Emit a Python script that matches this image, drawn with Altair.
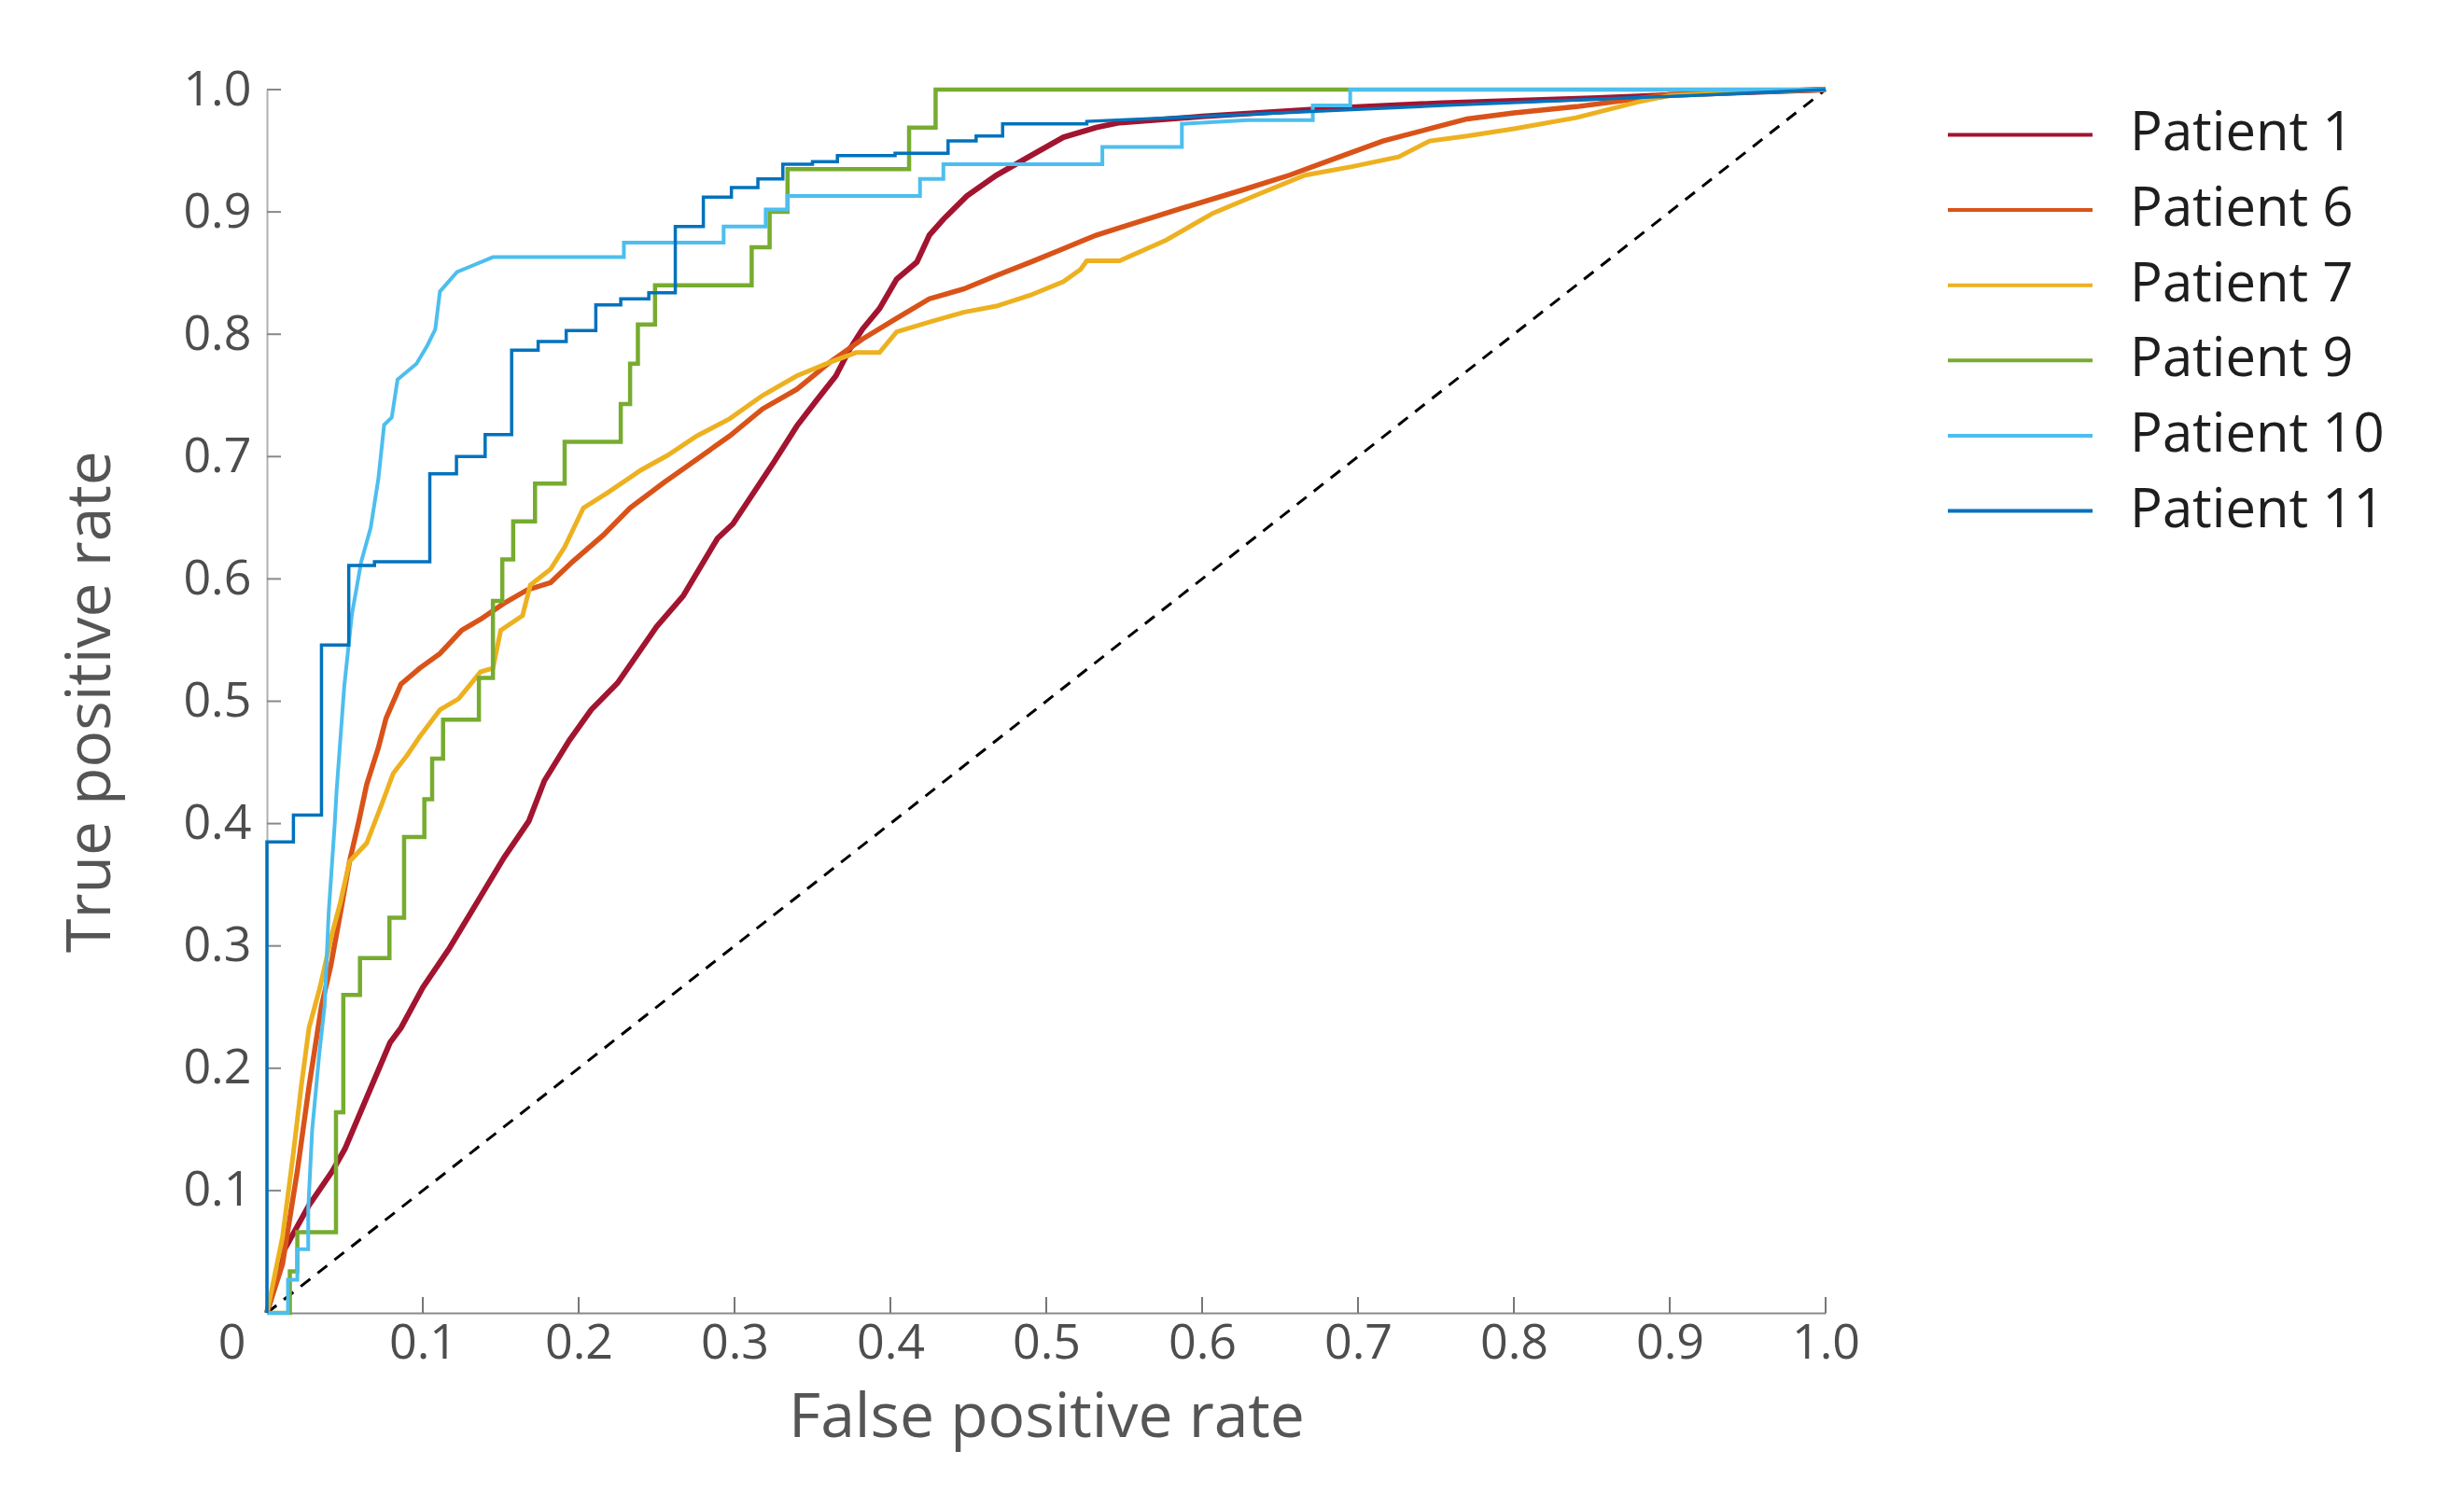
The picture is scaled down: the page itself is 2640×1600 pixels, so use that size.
import altair as alt
import pandas as pd

# series, in drawing order (later ones on top)
patients = ["Patient 1", "Patient 6", "Patient 7", "Patient 9", "Patient 10", "Patient 11"]
colors = ["#A2142F", "#D95319", "#EDB120", "#77AC30", "#4DBEEE", "#0072BD"]
widths = [6, 3.5, 3, 3.5, 3.5, 4.5]

# Patient 1
p1_fpr = [0, 0.010, 0.027, 0.042, 0.050, 0.064, 0.079, 0.086, 0.100, 0.117, 0.135, 0.152, 0.168,
          0.178, 0.194, 0.208, 0.225, 0.250, 0.267, 0.289, 0.299, 0.312, 0.325, 0.340, 0.352,
          0.365, 0.374, 0.382, 0.393, 0.404, 0.417, 0.425, 0.434, 0.449, 0.468, 0.490, 0.511,
          0.532, 0.547, 0.600, 0.686, 0.754, 0.850, 0.930, 1.0]
p1_tpr = [0, 0.049, 0.088, 0.116, 0.134, 0.176, 0.221, 0.233, 0.266, 0.298, 0.336, 0.372, 0.402,
          0.435, 0.468, 0.493, 0.515, 0.561, 0.586, 0.633, 0.645, 0.670, 0.695, 0.725, 0.745,
          0.766, 0.788, 0.804, 0.821, 0.845, 0.859, 0.881, 0.894, 0.913, 0.930, 0.946, 0.961,
          0.969, 0.973, 0.978, 0.985, 0.989, 0.993, 0.997, 1.0]

# Patient 6
p6_fpr = [0, 0.010, 0.0195, 0.027, 0.035, 0.041, 0.048, 0.053, 0.059, 0.064, 0.0715, 0.0764,
          0.086, 0.098, 0.111, 0.125, 0.137, 0.152, 0.167, 0.182, 0.196, 0.216, 0.233, 0.255,
          0.276, 0.297, 0.318, 0.340, 0.361, 0.382, 0.404, 0.425, 0.447, 0.468, 0.490, 0.511,
          0.532, 0.547, 0.587, 0.626, 0.656, 0.686, 0.716, 0.746, 0.770, 0.800, 0.840, 0.870,
          0.900, 0.950, 1.0]
p6_tpr = [0, 0.040, 0.116, 0.185, 0.251, 0.284, 0.333, 0.369, 0.402, 0.432, 0.462, 0.486,
          0.514, 0.527, 0.539, 0.558, 0.567, 0.580, 0.591, 0.597, 0.614, 0.636, 0.658, 0.679,
          0.698, 0.717, 0.739, 0.755, 0.777, 0.796, 0.813, 0.829, 0.837, 0.848, 0.859, 0.870,
          0.881, 0.887, 0.903, 0.918, 0.930, 0.944, 0.958, 0.968, 0.976, 0.981, 0.986, 0.991,
          0.996, 0.998, 1.0]

# Patient 7
p7_fpr = [0, 0.010, 0.017, 0.022, 0.027, 0.034, 0.042, 0.047, 0.053, 0.064, 0.074, 0.081,
          0.090, 0.098, 0.111, 0.123, 0.137, 0.145, 0.150, 0.164, 0.169, 0.182, 0.191, 0.203,
          0.218, 0.240, 0.257, 0.276, 0.297, 0.318, 0.340, 0.361, 0.378, 0.393, 0.404, 0.425,
          0.447, 0.468, 0.490, 0.511, 0.522, 0.526, 0.547, 0.577, 0.607, 0.637, 0.666, 0.696,
          0.726, 0.746, 0.770, 0.800, 0.840, 0.880, 0.900, 0.950, 1.0]
p7_tpr = [0, 0.062, 0.131, 0.185, 0.233, 0.266, 0.311, 0.335, 0.369, 0.384, 0.417, 0.441,
          0.456, 0.471, 0.493, 0.502, 0.524, 0.527, 0.558, 0.570, 0.595, 0.608, 0.626, 0.658,
          0.670, 0.689, 0.701, 0.717, 0.731, 0.750, 0.766, 0.777, 0.785, 0.785, 0.802, 0.810,
          0.818, 0.823, 0.832, 0.843, 0.853, 0.860, 0.860, 0.877, 0.899, 0.915, 0.930, 0.937,
          0.945, 0.958, 0.962, 0.968, 0.977, 0.990, 0.995, 0.998, 1.0]

# Patient 9
p9_fpr = [0, 0.0147, 0.0147, 0.0195, 0.0195, 0.0443, 0.0443, 0.049, 0.049, 0.0597, 0.0597,
          0.0786, 0.0786, 0.088, 0.088, 0.101, 0.101, 0.106, 0.106, 0.113, 0.113, 0.136, 0.136,
          0.145, 0.145, 0.151, 0.151, 0.158, 0.158, 0.172, 0.172, 0.191, 0.191, 0.227, 0.227,
          0.233, 0.233, 0.238, 0.238, 0.249, 0.249, 0.311, 0.311, 0.3225, 0.3225, 0.334, 0.334,
          0.412, 0.412, 0.429, 0.429, 1.0]
p9_tpr = [0, 0, 0.034, 0.034, 0.066, 0.066, 0.164, 0.164, 0.260, 0.260, 0.290, 0.290, 0.323,
          0.323, 0.389, 0.389, 0.420, 0.420, 0.453, 0.453, 0.485, 0.485, 0.519, 0.519, 0.582,
          0.582, 0.616, 0.616, 0.647, 0.647, 0.678, 0.678, 0.712, 0.712, 0.743, 0.743, 0.776,
          0.776, 0.808, 0.808, 0.840, 0.840, 0.871, 0.871, 0.900, 0.900, 0.935, 0.935, 0.969,
          0.969, 1.0, 1.0]

# Patient 10
p10_fpr = [0, 0.0135, 0.0135, 0.0195, 0.0195, 0.0265, 0.0265, 0.029, 0.0336, 0.037, 0.0396,
           0.0435, 0.0447, 0.0496, 0.0545, 0.0605, 0.0666, 0.0715, 0.0752, 0.0801, 0.0838,
           0.096, 0.103, 0.108, 0.111, 0.122, 0.145, 0.229, 0.229, 0.293, 0.293, 0.320, 0.320,
           0.334, 0.334, 0.419, 0.419, 0.434, 0.434, 0.536, 0.536, 0.587, 0.587, 0.629, 0.671,
           0.671, 0.695, 0.695, 1.0]
p10_tpr = [0, 0, 0.027, 0.027, 0.052, 0.052, 0.085, 0.149, 0.212, 0.251, 0.327, 0.400, 0.427,
           0.512, 0.571, 0.614, 0.642, 0.682, 0.726, 0.732, 0.763, 0.776, 0.791, 0.804, 0.835,
           0.851, 0.863, 0.863, 0.875, 0.875, 0.888, 0.888, 0.902, 0.902, 0.913, 0.913, 0.927,
           0.927, 0.939, 0.939, 0.953, 0.953, 0.972, 0.975, 0.975, 0.987, 0.987, 1.0, 1.0]

# Patient 11
p11_fpr = [0, 0, 0.017, 0.017, 0.035, 0.035, 0.0525, 0.0525, 0.069, 0.069, 0.1045, 0.1045,
           0.1216, 0.1216, 0.140, 0.140, 0.157, 0.157, 0.174, 0.174, 0.192, 0.192, 0.211, 0.211,
           0.227, 0.227, 0.245, 0.245, 0.262, 0.262, 0.280, 0.280, 0.298, 0.298, 0.315, 0.315,
           0.331, 0.331, 0.350, 0.350, 0.366, 0.366, 0.403, 0.403, 0.437, 0.437, 0.455, 0.455,
           0.472, 0.472, 0.526, 0.526, 0.600, 0.686, 0.754, 0.850, 0.930, 1.0]
p11_tpr = [0, 0.385, 0.385, 0.407, 0.407, 0.546, 0.546, 0.611, 0.611, 0.614, 0.614, 0.686,
           0.686, 0.700, 0.700, 0.718, 0.718, 0.787, 0.787, 0.794, 0.794, 0.803, 0.803, 0.824,
           0.824, 0.829, 0.829, 0.834, 0.834, 0.888, 0.888, 0.912, 0.912, 0.920, 0.920, 0.927,
           0.927, 0.939, 0.939, 0.941, 0.941, 0.946, 0.946, 0.948, 0.948, 0.958, 0.958, 0.962,
           0.962, 0.972, 0.972, 0.974, 0.978, 0.983, 0.987, 0.992, 0.996, 1.0]

chance_fpr = [0, 1]
chance_tpr = [0, 1]

tick_values = [0.1, 0.2, 0.3, 0.4, 0.5, 0.6, 0.7, 0.8, 0.9, 1.0]
x_label_values = [0, 0.1, 0.2, 0.3, 0.4, 0.5, 0.6, 0.7, 0.8, 0.9, 1.0]

series = [p1_fpr, p6_fpr, p7_fpr, p9_fpr, p10_fpr, p11_fpr]
series_y = [p1_tpr, p6_tpr, p7_tpr, p9_tpr, p10_tpr, p11_tpr]

rows = []
for k, name in enumerate(patients):
    for i, (fx, fy) in enumerate(zip(series[k], series_y[k])):
        rows.append({"patient": name, "fpr": fx, "tpr": fy, "step": i})
roc = pd.DataFrame(rows)

FONT = "Open Sans"
W, H = 1670, 1311

x_enc = alt.X("fpr:Q", scale=alt.Scale(domain=[0, 1], nice=False, zero=False),
              axis=alt.Axis(values=x_label_values, title="False positive rate",
                            labelExpr="datum.value == 0 ? '0' : format(datum.value, '.1f')",
                            labelOffset={"condition": {"test": "datum.value == 0", "value": -38}, "value": 0},
                            labelFlush=False,
                            ticks=False, grid=False, labelPadding=7, titlePadding=22,
                            domainColor="#8a8a8a", domainWidth=2))
y_enc = alt.Y("tpr:Q", scale=alt.Scale(domain=[0, 1], nice=False, zero=False),
              axis=alt.Axis(values=tick_values, format=".1f", title="True positive rate",
                            labelFlush=False,
                            ticks=False, grid=False, labelPadding=17, titlePadding=64,
                            domainColor="#b0b0b0", domainWidth=2))

lines = alt.Chart(roc).mark_line(strokeJoin="miter").encode(
    x=x_enc,
    y=y_enc,
    color=alt.Color("patient:N", scale=alt.Scale(domain=patients, range=colors), legend=None),
    strokeWidth=alt.StrokeWidth("patient:N", scale=alt.Scale(domain=patients, range=widths), legend=None),
    order="step:Q",
)

chance = alt.Chart(pd.DataFrame({"fpr": chance_fpr, "tpr": chance_tpr})).mark_line(
    color="black", strokeWidth=3, strokeDash=[13, 10]
).encode(x="fpr:Q", y="tpr:Q")

ticks = pd.DataFrame({"fpr": tick_values, "tpr": tick_values})
x_ticks = alt.Chart(ticks).mark_rule(color="#777777", strokeWidth=2).encode(
    x="fpr:Q", y=alt.value(H), y2=alt.value(H - 17))
y_ticks = alt.Chart(ticks).mark_rule(color="#888888", strokeWidth=2).encode(
    y="tpr:Q", x=alt.value(0), x2=alt.value(15))

main = alt.layer(x_ticks, y_ticks, chance, lines).properties(width=W, height=H)

# legend panel
leg = pd.DataFrame({"patient": patients})
leg_y = alt.Y("patient:N", sort=patients, axis=None,
              scale=alt.Scale(paddingInner=0, paddingOuter=0.1))
leg_lines = alt.Chart(leg).mark_rule(strokeWidth=4).encode(
    y=leg_y, x=alt.value(0), x2=alt.value(155),
    color=alt.Color("patient:N", scale=alt.Scale(domain=patients, range=colors), legend=None),
)
leg_text = alt.Chart(leg).mark_text(align="left", baseline="middle", fontSize=58,
                                    font=FONT, color="#1e1e1e").encode(
    y=leg_y, x=alt.value(195), text="patient:N")
legend_panel = alt.layer(leg_lines, leg_text).properties(width=480, height=500)

chart = alt.hconcat(main, legend_panel, spacing=92).configure(
    font=FONT,
    padding={"left": 56, "top": 62, "right": 5, "bottom": 5},
).configure_view(
    stroke=None
).configure_axis(
    labelFont=FONT, titleFont=FONT, labelFontSize=52, titleFontSize=66,
    labelColor="#4d4d4d", titleColor="#555555", titleFontWeight="normal",
)

chart.save("out.html", embed_options={"renderer": "svg", "actions": False})
